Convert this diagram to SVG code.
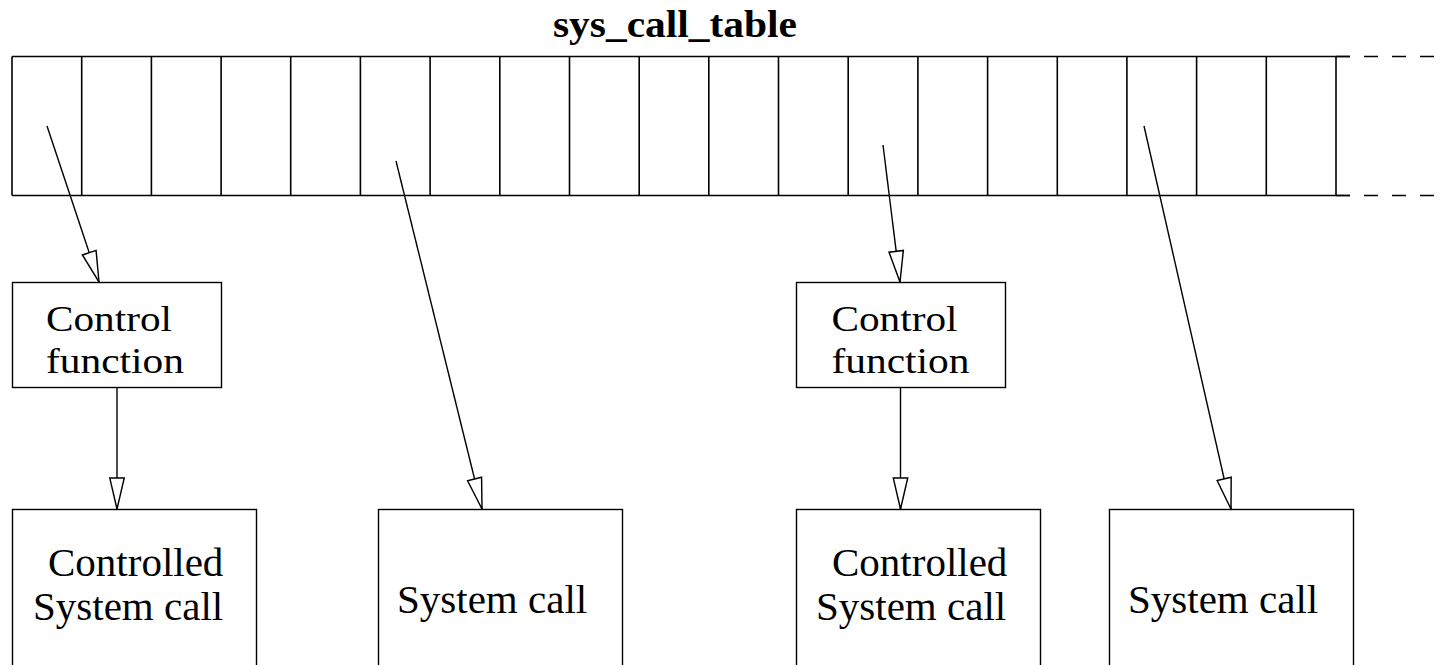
<svg xmlns="http://www.w3.org/2000/svg" width="1446" height="665" viewBox="0 0 1446 665">
  <style>
    .box { fill: #fff; stroke: #000; stroke-width: 1.4; }
    .grid { stroke: #000; stroke-width: 1.6; fill: none; }
    .edge { stroke: #000; stroke-width: 1.4; fill: none; marker-end: url(#openArrow); }
    .lbl { font-family: "Liberation Serif", "Times New Roman", serif; font-size: 41px; fill: #000; }
    .tight { font-size: 36px; }
    .title { font-family: "Liberation Serif", "Times New Roman", serif; font-size: 38px; font-weight: bold; fill: #000; }
  </style>
  <defs>
    <marker id="openArrow" markerUnits="userSpaceOnUse" markerWidth="34" markerHeight="18" viewBox="-1 -8 33 16" refX="30" refY="0" orient="auto">
      <path d="M0,-7 L30,0 L0,7 Z" fill="#fff" stroke="#000" stroke-width="1.4"/>
    </marker>
  </defs>
  <rect width="1446" height="665" fill="#fff"/>

  <!-- system call table with 19 slots, continuing off to the right -->
  <g id="sys_call_table">
    <text class="title" x="553" y="36.5" textLength="244" lengthAdjust="spacingAndGlyphs">sys_call_table</text>
    <path class="grid" d="M12,56.5 H1350 M12,195.5 H1350 M12,56.5 V195.5
      M81.7,56.5 V195.5 M151.4,56.5 V195.5 M221.1,56.5 V195.5 M290.7,56.5 V195.5
      M360.4,56.5 V195.5 M430.1,56.5 V195.5 M499.8,56.5 V195.5 M569.5,56.5 V195.5
      M639.2,56.5 V195.5 M708.8,56.5 V195.5 M778.5,56.5 V195.5 M848.2,56.5 V195.5
      M917.9,56.5 V195.5 M987.6,56.5 V195.5 M1057.3,56.5 V195.5 M1126.9,56.5 V195.5
      M1196.6,56.5 V195.5 M1266.3,56.5 V195.5 M1336,56.5 V195.5"/>
    <path class="grid" stroke-dasharray="14 14" d="M1336,56.5 H1434 M1336,195.5 H1434"/>
  </g>

  <g id="control_function_1">
    <rect class="box" x="12.5" y="282.5" width="209" height="105"/>
    <text class="lbl tight" x="46" y="331" textLength="126" lengthAdjust="spacingAndGlyphs">Control</text>
    <text class="lbl tight" x="46" y="373" textLength="138" lengthAdjust="spacingAndGlyphs">function</text>
  </g>

  <g id="controlled_syscall_1">
    <rect class="box" x="12.5" y="509.5" width="244" height="180"/>
    <text class="lbl" x="48" y="576">Controlled</text>
    <text class="lbl" x="33" y="620">System call</text>
  </g>

  <g id="syscall_1">
    <rect class="box" x="378.5" y="509.5" width="244" height="180"/>
    <text class="lbl" x="397" y="613">System call</text>
  </g>

  <g id="control_function_2">
    <rect class="box" x="796.5" y="282.5" width="209" height="105"/>
    <text class="lbl tight" x="831.5" y="331" textLength="126" lengthAdjust="spacingAndGlyphs">Control</text>
    <text class="lbl tight" x="831.5" y="373" textLength="138" lengthAdjust="spacingAndGlyphs">function</text>
  </g>

  <g id="controlled_syscall_2">
    <rect class="box" x="796.5" y="509.5" width="244" height="180"/>
    <text class="lbl" x="832" y="576">Controlled</text>
    <text class="lbl" x="816" y="620">System call</text>
  </g>

  <g id="syscall_2">
    <rect class="box" x="1109.5" y="509.5" width="244" height="180"/>
    <text class="lbl" x="1128" y="613">System call</text>
  </g>

  <g id="connectors">
    <line class="edge" x1="47" y1="126" x2="99" y2="282"/>
    <line class="edge" x1="117" y1="387.5" x2="117" y2="509"/>
    <line class="edge" x1="396" y1="161" x2="482" y2="509"/>
    <line class="edge" x1="883" y1="145" x2="900" y2="282"/>
    <line class="edge" x1="900.5" y1="387.5" x2="900.5" y2="509"/>
    <line class="edge" x1="1144" y1="126" x2="1231" y2="509"/>
  </g>
</svg>
